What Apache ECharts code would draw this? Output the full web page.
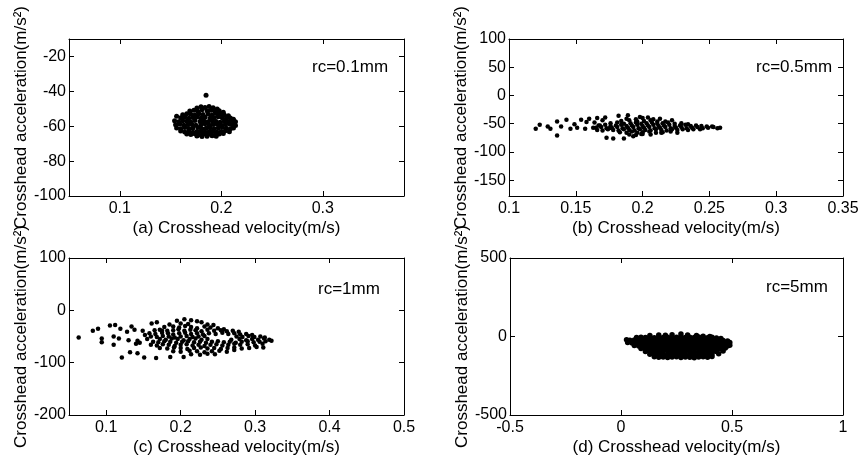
<!DOCTYPE html>
<html>
<head>
<meta charset="utf-8">
<script src="https://cdn.jsdelivr.net/npm/echarts@6/dist/echarts.min.js"></script>
<style>
  html, body { margin: 0; padding: 0; background: #fff; }
  #chart { width: 862px; height: 457px; }
</style>
</head>
<body>
<div id="chart"></div>
<script>
// Crosshead velocity (m/s) vs crosshead acceleration (m/s^2) for four clearances rc.

// (a) rc = 0.1 mm
const pointsA = [
  [0.185,-42.3],
  [0.176,-49.6],[0.180,-48.9],[0.184,-49.2],[0.188,-48.7],[0.192,-49.4],[0.196,-50.1],
  [0.169,-51.3],[0.173,-50.8],[0.177,-51.5],[0.181,-50.6],[0.186,-51.2],[0.190,-50.9],[0.194,-51.6],[0.198,-51.1],[0.202,-52.0],
  [0.162,-53.4],[0.166,-52.8],[0.170,-53.1],[0.174,-53.6],[0.178,-52.9],[0.182,-53.3],[0.187,-53.0],[0.191,-53.5],[0.195,-52.7],[0.199,-53.2],[0.203,-53.6],[0.207,-54.0],
  [0.156,-54.3],[0.160,-55.2],[0.164,-54.8],[0.168,-55.4],[0.172,-55.0],[0.176,-54.7],[0.180,-55.3],[0.184,-54.9],[0.189,-55.5],[0.193,-55.1],[0.197,-54.6],[0.201,-55.2],[0.205,-55.7],[0.209,-55.3],[0.212,-56.0],
  [0.154,-56.8],[0.158,-57.4],[0.162,-56.9],[0.166,-57.2],[0.170,-57.6],[0.174,-56.7],[0.179,-57.3],[0.183,-57.0],[0.187,-57.5],[0.191,-56.8],[0.195,-57.3],[0.199,-57.7],[0.203,-57.1],[0.207,-57.4],[0.211,-56.9],[0.214,-57.5],
  [0.155,-59.2],[0.159,-58.7],[0.163,-59.4],[0.167,-59.0],[0.171,-58.8],[0.175,-59.5],[0.180,-59.1],[0.184,-58.6],[0.188,-59.3],[0.192,-59.0],[0.196,-58.8],[0.200,-59.4],[0.204,-59.0],[0.208,-58.7],[0.211,-59.3],[0.214,-59.6],
  [0.156,-61.0],[0.160,-61.4],[0.164,-60.8],[0.168,-61.3],[0.172,-61.0],[0.177,-60.7],[0.181,-61.5],[0.185,-61.1],[0.189,-60.9],[0.193,-61.4],[0.197,-61.0],[0.201,-60.6],[0.205,-61.2],[0.209,-61.5],[0.212,-61.0],
  [0.160,-62.8],[0.164,-63.3],[0.168,-62.9],[0.172,-63.4],[0.176,-63.0],[0.180,-62.7],[0.184,-63.3],[0.188,-63.1],[0.192,-62.8],[0.196,-63.4],[0.200,-63.0],[0.204,-62.6],[0.208,-63.1],
  [0.166,-64.4],[0.170,-64.8],[0.174,-64.3],[0.178,-64.9],[0.182,-64.5],[0.186,-65.0],[0.190,-64.6],[0.194,-64.9],[0.198,-64.4],[0.202,-64.2],
  [0.176,-65.6],[0.181,-65.9],[0.186,-65.7],[0.191,-65.5],[0.195,-65.8]
];

// (b) rc = 0.5 mm
const pointsB = [
  [0.120,-59],[0.123,-52],[0.129,-55],[0.131,-59],[0.136,-46],[0.136,-71],[0.139,-55],[0.143,-43],[0.146,-59],[0.149,-51],
  [0.151,-57],[0.154,-43],[0.157,-59],[0.158,-47],[0.160,-41],[0.163,-57],[0.164,-48],[0.166,-40],[0.168,-53],[0.170,-44],
  [0.173,-75],[0.172,-39],[0.175,-58],[0.178,-76],[0.182,-36],[0.186,-76],[0.189,-35],[0.193,-72],[0.198,-38],[0.200,-68],
  [0.204,-39],[0.213,-41],[0.214,-66],[0.222,-44],[0.226,-66],
  [0.165,-57],[0.169,-56],[0.173,-58],[0.177,-57],[0.181,-56],[0.185,-58],[0.189,-57],[0.193,-56],[0.197,-58],[0.201,-57],
  [0.205,-56],[0.209,-58],[0.213,-57],[0.217,-56],[0.221,-58],[0.225,-57],[0.229,-56],[0.233,-58],[0.237,-57],[0.241,-56],
  [0.245,-58],[0.249,-57],[0.253,-56],[0.256,-58],[0.258,-57],
  [0.167,-53],[0.172,-52],[0.176,-54],[0.180,-53],[0.184,-52],[0.188,-54],[0.192,-53],[0.196,-52],[0.200,-54],[0.204,-53],
  [0.208,-52],[0.212,-54],[0.216,-53],[0.220,-52],[0.224,-54],[0.228,-53],[0.232,-52],[0.236,-54],[0.240,-53],[0.244,-54],
  [0.248,-55],[0.252,-55],
  [0.166,-61],[0.170,-62],[0.174,-60],[0.178,-61],[0.182,-62],[0.186,-60],[0.190,-61],[0.194,-62],[0.198,-60],[0.202,-61],
  [0.206,-62],[0.210,-60],[0.214,-61],[0.218,-62],[0.222,-60],[0.226,-61],[0.230,-60],[0.234,-61],[0.238,-60],[0.243,-60],
  [0.176,-49],[0.181,-48],[0.186,-50],[0.191,-49],[0.195,-48],[0.199,-50],[0.203,-49],[0.207,-48],[0.211,-50],[0.215,-49],
  [0.219,-48],[0.224,-50],[0.229,-49],[0.234,-51],
  [0.183,-65],[0.188,-66],[0.192,-64],[0.196,-66],[0.200,-65],[0.205,-64],[0.210,-66],[0.215,-65],[0.221,-64],
  [0.184,-45],[0.190,-44],[0.196,-46],[0.201,-45],[0.206,-44],[0.211,-46],[0.217,-46],
  [0.190,-69],[0.195,-70],[0.199,-68],[0.206,-69],
  [0.188,-41],[0.195,-42],[0.200,-40],[0.208,-42]
];

// (c) rc = 1 mm
const pointsC = [
  [0.063,-52],[0.082,-39],[0.089,-35],[0.094,-54],[0.094,-61],[0.105,-29],[0.112,-28],[0.110,-50],[0.110,-66],[0.119,-35],
  [0.117,-54],[0.121,-90],[0.128,-41],[0.130,-57],[0.134,-31],[0.138,-37],[0.142,-58],[0.145,-62],[0.140,-64],[0.132,-80],
  [0.142,-82],[0.151,-90],[0.149,-39],[0.161,-25],[0.168,-23],[0.167,-91],[0.186,-89],[0.204,-89],[0.175,-39],[0.155,-55],
  [0.152,-47],
  [0.195,-20],[0.205,-17],[0.214,-19],[0.222,-21],
  [0.185,-27],[0.200,-25],[0.210,-26],[0.228,-23],[0.236,-27],[0.244,-28],
  [0.178,-32],[0.190,-31],[0.198,-33],[0.206,-30],[0.214,-32],[0.222,-34],[0.232,-31],[0.240,-33],[0.250,-34],[0.258,-36],
  [0.165,-38],[0.172,-37],[0.182,-39],[0.190,-38],[0.197,-36],[0.205,-39],[0.213,-37],[0.220,-38],[0.228,-40],[0.236,-37],
  [0.245,-39],[0.254,-38],[0.262,-40],[0.270,-39],[0.278,-41],
  [0.158,-44],[0.166,-45],[0.175,-43],[0.183,-44],[0.190,-46],[0.198,-44],[0.206,-43],[0.214,-45],[0.222,-44],[0.230,-46],
  [0.238,-44],[0.247,-45],[0.256,-43],[0.264,-45],[0.272,-44],[0.280,-46],[0.288,-45],[0.296,-47],
  [0.160,-50],[0.168,-51],[0.176,-49],[0.184,-50],[0.192,-52],[0.200,-50],[0.208,-49],[0.216,-51],[0.224,-50],[0.232,-49],
  [0.275,-50],[0.283,-51],[0.291,-49],[0.299,-51],[0.307,-50],[0.313,-52],
  [0.172,-55],[0.180,-56],[0.188,-54],[0.196,-55],[0.204,-57],[0.212,-55],[0.220,-54],[0.228,-56],[0.236,-55],
  [0.268,-56],[0.279,-55],[0.288,-57],[0.296,-55],[0.304,-56],[0.312,-54],[0.319,-56],
  [0.163,-60],[0.170,-61],[0.178,-59],[0.186,-60],[0.194,-62],[0.202,-60],[0.210,-59],[0.218,-61],[0.226,-60],[0.234,-62],
  [0.242,-60],[0.250,-59],[0.258,-61],[0.266,-60],[0.274,-62],[0.282,-60],[0.290,-59],[0.298,-61],[0.306,-60],[0.314,-59],
  [0.322,-58],
  [0.160,-66],[0.168,-67],[0.176,-65],[0.184,-66],[0.192,-68],[0.200,-66],[0.208,-65],[0.216,-67],[0.224,-66],[0.232,-68],
  [0.240,-66],[0.248,-65],[0.256,-67],[0.264,-66],[0.272,-64],[0.280,-66],[0.290,-65],[0.300,-67],[0.310,-64],
  [0.172,-72],[0.182,-73],[0.191,-71],[0.200,-72],[0.209,-74],[0.218,-72],[0.227,-71],[0.236,-73],[0.245,-72],[0.254,-74],
  [0.263,-72],[0.272,-71],[0.282,-73],[0.292,-72],[0.302,-70],[0.311,-71],
  [0.190,-78],[0.200,-79],[0.212,-77],[0.222,-78],[0.232,-80],[0.242,-78],[0.252,-77],[0.262,-79],[0.272,-76],
  [0.214,-84],[0.226,-85],[0.236,-83],[0.246,-84]
];

// (d) rc = 5 mm
const pointsD = [
  [0.13,6],[0.17,9],[0.20,8],[0.23,11],[0.27,16],[0.30,10],[0.34,7],[0.37,2],[0.40,0],
  [0.07,-6],[0.09,-4],[0.11,-7],[0.13,-5],[0.15,-8],[0.17,-3],[0.19,-6],[0.21,-4],[0.23,-7],[0.25,-5],
  [0.27,-2],[0.29,-6],[0.31,-4],[0.33,-7],[0.35,-3],[0.37,-6],[0.39,-8],[0.41,-5],[0.43,-9],[0.45,-12],
  [0.025,-20],[0.04,-24],[0.06,-22],[0.08,-25],[0.10,-21],[0.12,-24],[0.14,-26],[0.16,-22],[0.18,-25],[0.20,-23],
  [0.22,-21],[0.24,-25],[0.26,-22],[0.28,-24],[0.30,-26],[0.32,-21],[0.34,-24],[0.36,-22],[0.38,-25],[0.40,-23],
  [0.42,-26],[0.44,-22],[0.46,-25],[0.48,-28],
  [0.03,-38],[0.05,-42],[0.07,-40],[0.09,-43],[0.11,-39],[0.13,-42],[0.15,-44],[0.17,-40],[0.19,-43],[0.21,-41],
  [0.23,-39],[0.25,-43],[0.27,-40],[0.29,-42],[0.31,-44],[0.33,-39],[0.35,-42],[0.37,-40],[0.39,-43],[0.41,-41],
  [0.43,-44],[0.45,-40],[0.47,-42],[0.49,-38],
  [0.06,-58],[0.08,-61],[0.10,-59],[0.12,-62],[0.14,-58],[0.16,-60],[0.18,-62],[0.20,-59],[0.22,-61],[0.24,-58],
  [0.26,-60],[0.28,-63],[0.30,-59],[0.32,-61],[0.34,-58],[0.36,-62],[0.38,-60],[0.40,-58],[0.42,-61],[0.44,-59],
  [0.46,-62],[0.48,-60],[0.49,-56],
  [0.09,-76],[0.11,-79],[0.13,-77],[0.15,-80],[0.17,-76],[0.19,-78],[0.21,-81],[0.23,-77],[0.25,-79],[0.27,-76],
  [0.29,-80],[0.31,-78],[0.33,-76],[0.35,-79],[0.37,-81],[0.39,-77],[0.41,-79],[0.43,-76],[0.45,-80],[0.47,-74],
  [0.11,-95],[0.13,-97],[0.15,-94],[0.17,-98],[0.19,-96],[0.21,-93],[0.23,-97],[0.25,-95],[0.27,-98],[0.29,-94],
  [0.31,-96],[0.33,-99],[0.35,-95],[0.37,-97],[0.39,-94],[0.41,-98],[0.43,-96],[0.46,-92],
  [0.13,-113],[0.15,-115],[0.17,-112],[0.19,-116],[0.21,-114],[0.23,-111],[0.25,-115],[0.27,-113],[0.29,-116],[0.31,-112],
  [0.33,-114],[0.35,-117],[0.37,-113],[0.39,-115],[0.41,-112],[0.44,-110],
  [0.15,-129],[0.17,-132],[0.19,-130],[0.21,-134],[0.23,-131],[0.25,-129],[0.27,-133],[0.29,-130],[0.31,-132],[0.33,-135],
  [0.35,-131],[0.37,-129],[0.39,-132],[0.41,-127]
];

// Tick values for each panel
const xTicksA = [0.1, 0.2, 0.3];
const yTicksA = [-100, -80, -60, -40, -20];
const xTicksB = [0.1, 0.15, 0.2, 0.25, 0.3, 0.35];
const yTicksB = [-150, -100, -50, 0, 50, 100];
const xTicksC = [0.1, 0.2, 0.3, 0.4, 0.5];
const yTicksC = [-200, -100, 0, 100];
const xTicksD = [-0.5, 0, 0.5, 1];
const yTicksD = [-500, 0, 500];

const panelTags = ['rc=0.1mm', 'rc=0.5mm', 'rc=1mm', 'rc=5mm'];
const xNames = ['(a) Crosshead velocity(m/s)', '(b) Crosshead velocity(m/s)',
                '(c) Crosshead velocity(m/s)', '(d) Crosshead velocity(m/s)'];
const yName = 'Crosshead acceleration(m/s\u00b2)';

const FONT = 'Liberation Sans, Arial, sans-serif';

const panels = [
  { grid: { left: 69,  top: 39,  width: 335, height: 157 }, x: [0.05, 0.38], y: [-100, -10],
    xt: xTicksA, yt: yTicksA, data: pointsA, tagAt: [312, 67], size: 5 },
  { grid: { left: 509, top: 39,  width: 334, height: 157 }, x: [0.1, 0.35],  y: [-178, 100],
    xt: xTicksB, yt: yTicksB, data: pointsB, tagAt: [756, 67], size: 4.5 },
  { grid: { left: 69,  top: 258, width: 335, height: 157 }, x: [0.05, 0.5],  y: [-200, 100],
    xt: xTicksC, yt: yTicksC, data: pointsC, tagAt: [318, 289], size: 4.5 },
  { grid: { left: 510, top: 258, width: 333, height: 157 }, x: [-0.5, 1],   y: [-500, 500],
    xt: xTicksD, yt: yTicksD, data: pointsD, tagAt: [766, 287], size: 5.5 }
];

const fmt = v => String(parseFloat(Number(v).toFixed(4)));
const black = { color: '#000', width: 1 };

const grids = [], xAxes = [], yAxes = [], series = [], graphics = [];

panels.forEach((p, i) => {
  grids.push(Object.assign({ containLabel: false, outerBoundsMode: 'none' }, p.grid));
  const tick = vals => ({ show: true, inside: true, length: 5, lineStyle: black, customValues: vals });
  // bottom axis with labels
  xAxes.push({
    gridIndex: i, type: 'value', min: p.x[0], max: p.x[1], position: 'bottom',
    axisLine: { show: true, onZero: false, lineStyle: black },
    axisTick: tick(p.xt), splitLine: { show: false },
    axisLabel: { customValues: p.xt, formatter: fmt, color: '#000', fontSize: 16, fontFamily: FONT, margin: 5 },
    name: xNames[i], nameLocation: 'middle', nameGap: 24,
    nameTextStyle: { color: '#000', fontSize: 17, fontFamily: FONT }
  });
  // top frame axis
  xAxes.push({
    gridIndex: i, type: 'value', min: p.x[0], max: p.x[1], position: 'top',
    axisLine: { show: true, onZero: false, lineStyle: black },
    axisTick: tick(p.xt), axisLabel: { show: false }, splitLine: { show: false }
  });
  // left axis with labels
  yAxes.push({
    gridIndex: i, type: 'value', min: p.y[0], max: p.y[1], position: 'left',
    axisLine: { show: true, onZero: false, lineStyle: black },
    axisTick: tick(p.yt), splitLine: { show: false },
    axisLabel: { customValues: p.yt, formatter: fmt, color: '#000', fontSize: 16, fontFamily: FONT, margin: 3 },
    name: yName, nameLocation: 'middle', nameGap: 37, nameRotate: 90,
    nameTextStyle: { color: '#000', fontSize: 17, fontFamily: FONT }
  });
  // right frame axis
  yAxes.push({
    gridIndex: i, type: 'value', min: p.y[0], max: p.y[1], position: 'right',
    axisLine: { show: true, onZero: false, lineStyle: black },
    axisTick: tick(p.yt), axisLabel: { show: false }, splitLine: { show: false }
  });
  series.push({
    type: 'scatter', xAxisIndex: i * 2, yAxisIndex: i * 2,
    data: p.data, symbol: 'circle', symbolSize: p.size,
    itemStyle: { color: '#000', opacity: 1 }, emphasis: { disabled: true }, silent: true
  });
  graphics.push({
    type: 'text', x: p.tagAt[0], y: p.tagAt[1],
    style: { text: panelTags[i], fill: '#000', fontSize: 17, fontFamily: FONT, verticalAlign: 'middle' }
  });
});

const chart = echarts.init(document.getElementById('chart'), null, { renderer: 'canvas' });
chart.setOption({
  backgroundColor: '#fff',
  animation: false,
  grid: grids,
  xAxis: xAxes,
  yAxis: yAxes,
  series: series,
  graphic: graphics
});
</script>
</body>
</html>
